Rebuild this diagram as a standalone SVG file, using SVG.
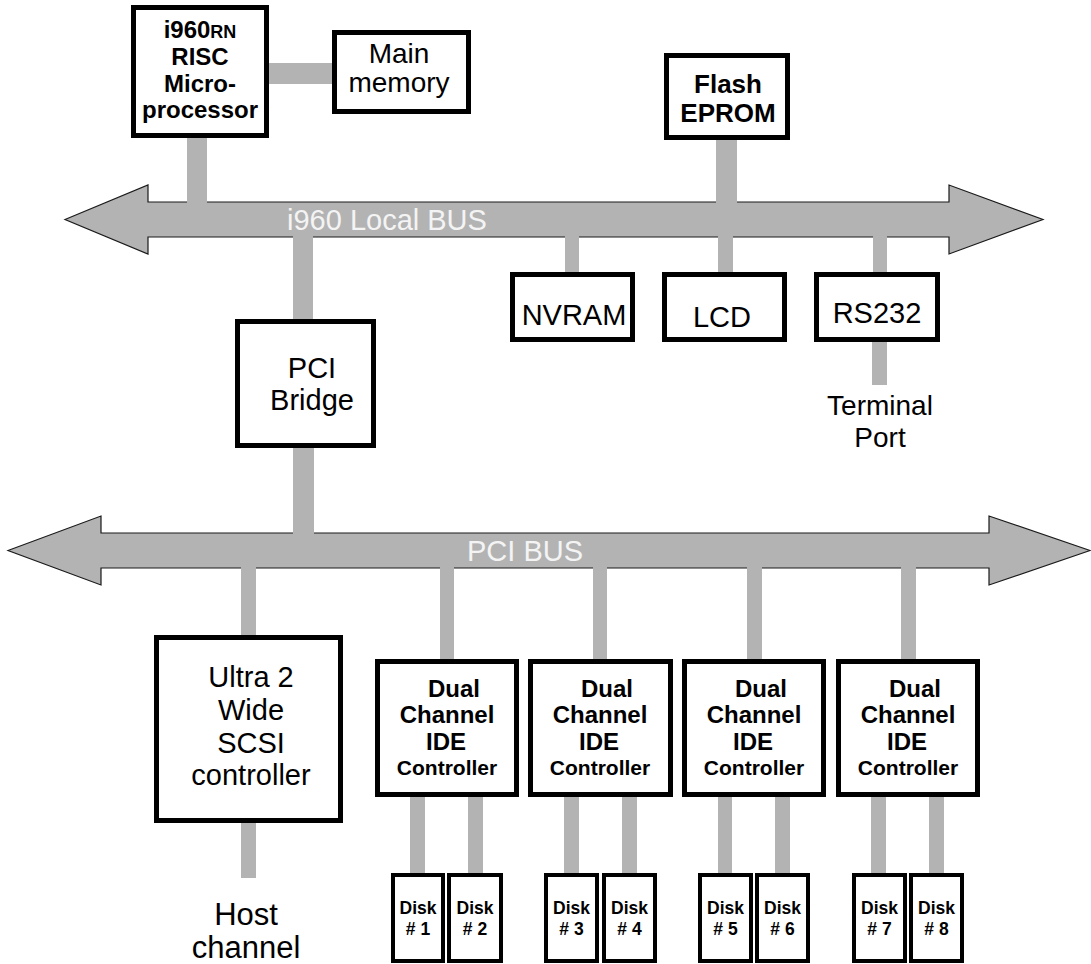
<svg xmlns="http://www.w3.org/2000/svg" width="1091" height="964" viewBox="0 0 1091 964">
<style>
.bus{fill:#b3b3b3;stroke:#1a1a1a;stroke-width:1.2;stroke-linejoin:miter}
.con{fill:#b3b3b3}
.box{fill:#fff;stroke:#000;stroke-width:5}
.disk{fill:#fff;stroke:#000;stroke-width:4}
text{font-family:"Liberation Sans",Arial,sans-serif;text-anchor:middle;fill:#000}
.r29{font-size:29px}
.r28{font-size:28px}
.b24{font-size:24px;font-weight:bold}
.b21{font-size:21px;font-weight:bold}
.b26{font-size:26px;font-weight:bold}
.b18{font-size:17.5px;font-weight:bold}
.bl{font-size:29px;fill:#f4f4f4;text-anchor:start}
</style>
<rect width="1091" height="964" fill="#fff"/>

<g id="local-bus">
<polygon class="bus" points="65,219.5 148,185 148,202 949,202 949,185 1043,219.5 949,254 949,237 148,237 148,254"/>
<text class="bl" x="287" y="230">i960 Local BUS</text>
</g>
<g id="pci-bus">
<polygon class="bus" points="8,550.5 101,516 101,533 989,533 989,516 1090,550.5 989,585 989,568 101,568 101,585"/>
<text class="bl" x="467" y="561">PCI BUS</text>
</g>

<g id="connectors">
<rect class="con" x="266" y="63" width="70" height="21"/>
<rect class="con" x="187" y="136" width="20" height="67"/>
<rect class="con" x="716" y="138" width="21" height="65"/>
<rect class="con" x="293" y="236" width="20" height="86"/>
<rect class="con" x="565" y="236" width="14" height="38"/>
<rect class="con" x="718" y="236" width="15" height="38"/>
<rect class="con" x="873" y="236" width="14" height="38"/>
<rect class="con" x="872" y="340" width="15" height="45"/>
<rect class="con" x="293" y="445" width="21" height="89"/>
<rect class="con" x="241" y="567" width="15" height="70"/>
<rect class="con" x="241" y="821" width="15" height="57"/>
<rect class="con" x="440" y="567" width="14" height="94"/>
<rect class="con" x="593" y="567" width="14" height="94"/>
<rect class="con" x="747" y="567" width="15" height="94"/>
<rect class="con" x="901" y="567" width="15" height="94"/>
<rect class="con" x="410" y="795" width="15" height="80"/>
<rect class="con" x="468" y="795" width="15" height="80"/>
<rect class="con" x="564" y="795" width="15" height="80"/>
<rect class="con" x="622" y="795" width="15" height="80"/>
<rect class="con" x="718" y="795" width="14" height="80"/>
<rect class="con" x="775" y="795" width="15" height="80"/>
<rect class="con" x="871" y="795" width="15" height="80"/>
<rect class="con" x="929" y="795" width="15" height="80"/>
</g>

<g id="cpu">
<rect class="box" x="133.5" y="7.5" width="133" height="128"/>
<text class="b24" x="200" y="38">i960<tspan font-size="18px">RN</tspan></text>
<text class="b24" x="200" y="65">RISC</text>
<text class="b24" x="200" y="92">Micro-</text>
<text class="b24" x="200" y="118">processor</text>
</g>
<g id="main-memory">
<rect class="box" x="334.5" y="32.5" width="134" height="79"/>
<text class="r28" x="399" y="63">Main</text>
<text class="r28" x="399" y="92">memory</text>
</g>
<g id="flash">
<rect class="box" x="666.5" y="55.5" width="121" height="82"/>
<text class="b26" x="728" y="93">Flash</text>
<text class="b26" x="728" y="122">EPROM</text>
</g>
<g id="nvram">
<rect class="box" x="512.5" y="274.5" width="120" height="65"/>
<text class="r29" x="574" y="325">NVRAM</text>
</g>
<g id="lcd">
<rect class="box" x="664.5" y="274.5" width="120" height="65"/>
<text class="r29" x="722" y="327">LCD</text>
</g>
<g id="rs232">
<rect class="box" x="816.5" y="274.5" width="121" height="65"/>
<text class="r29" x="877" y="323">RS232</text>
</g>
<g id="terminal-port">
<text class="r28" x="880" y="415">Terminal</text>
<text class="r28" x="880" y="447">Port</text>
</g>
<g id="pci-bridge">
<rect class="box" x="237.5" y="321.5" width="136" height="124"/>
<text class="r29" x="312" y="378">PCI</text>
<text class="r29" x="312" y="410">Bridge</text>
</g>
<g id="scsi">
<rect class="box" x="156.5" y="637.5" width="184" height="183"/>
<text class="r29" x="251" y="687">Ultra 2</text>
<text class="r29" x="251" y="720">Wide</text>
<text class="r29" x="251" y="753">SCSI</text>
<text class="r29" x="251" y="785">controller</text>
</g>
<g id="host-channel">
<text style="font-size:31px" x="246" y="925">Host</text>
<text style="font-size:31px" x="246" y="958">channel</text>
</g>

<g id="ide1">
<rect class="box" x="377.5" y="661.5" width="139" height="133"/>
<text class="b24" x="454" y="697">Dual</text>
<text class="b24" x="447" y="723">Channel</text>
<text class="b24" x="446" y="750">IDE</text>
<text class="b21" x="447" y="775">Controller</text>
</g>
<g id="ide2">
<rect class="box" x="530.5" y="661.5" width="140" height="133"/>
<text class="b24" x="607" y="697">Dual</text>
<text class="b24" x="600" y="723">Channel</text>
<text class="b24" x="599" y="750">IDE</text>
<text class="b21" x="600" y="775">Controller</text>
</g>
<g id="ide3">
<rect class="box" x="684.5" y="661.5" width="139" height="133"/>
<text class="b24" x="761" y="697">Dual</text>
<text class="b24" x="754" y="723">Channel</text>
<text class="b24" x="753" y="750">IDE</text>
<text class="b21" x="754" y="775">Controller</text>
</g>
<g id="ide4">
<rect class="box" x="838.5" y="661.5" width="139" height="133"/>
<text class="b24" x="915" y="697">Dual</text>
<text class="b24" x="908" y="723">Channel</text>
<text class="b24" x="907" y="750">IDE</text>
<text class="b21" x="908" y="775">Controller</text>
</g>

<g id="disk1"><rect class="disk" x="393" y="875" width="50" height="86"/><text class="b18" x="418" y="914">Disk</text><text class="b18" x="418" y="935"># 1</text></g>
<g id="disk2"><rect class="disk" x="449" y="875" width="52" height="86"/><text class="b18" x="475" y="914">Disk</text><text class="b18" x="475" y="935"># 2</text></g>
<g id="disk3"><rect class="disk" x="546" y="875" width="51" height="86"/><text class="b18" x="571.5" y="914">Disk</text><text class="b18" x="571.5" y="935"># 3</text></g>
<g id="disk4"><rect class="disk" x="604" y="875" width="51" height="86"/><text class="b18" x="629.5" y="914">Disk</text><text class="b18" x="629.5" y="935"># 4</text></g>
<g id="disk5"><rect class="disk" x="700" y="875" width="51" height="86"/><text class="b18" x="725.5" y="914">Disk</text><text class="b18" x="725.5" y="935"># 5</text></g>
<g id="disk6"><rect class="disk" x="757" y="875" width="51" height="86"/><text class="b18" x="782.5" y="914">Disk</text><text class="b18" x="782.5" y="935"># 6</text></g>
<g id="disk7"><rect class="disk" x="854" y="875" width="51" height="86"/><text class="b18" x="879.5" y="914">Disk</text><text class="b18" x="879.5" y="935"># 7</text></g>
<g id="disk8"><rect class="disk" x="911" y="875" width="51" height="86"/><text class="b18" x="936.5" y="914">Disk</text><text class="b18" x="936.5" y="935"># 8</text></g>
</svg>
